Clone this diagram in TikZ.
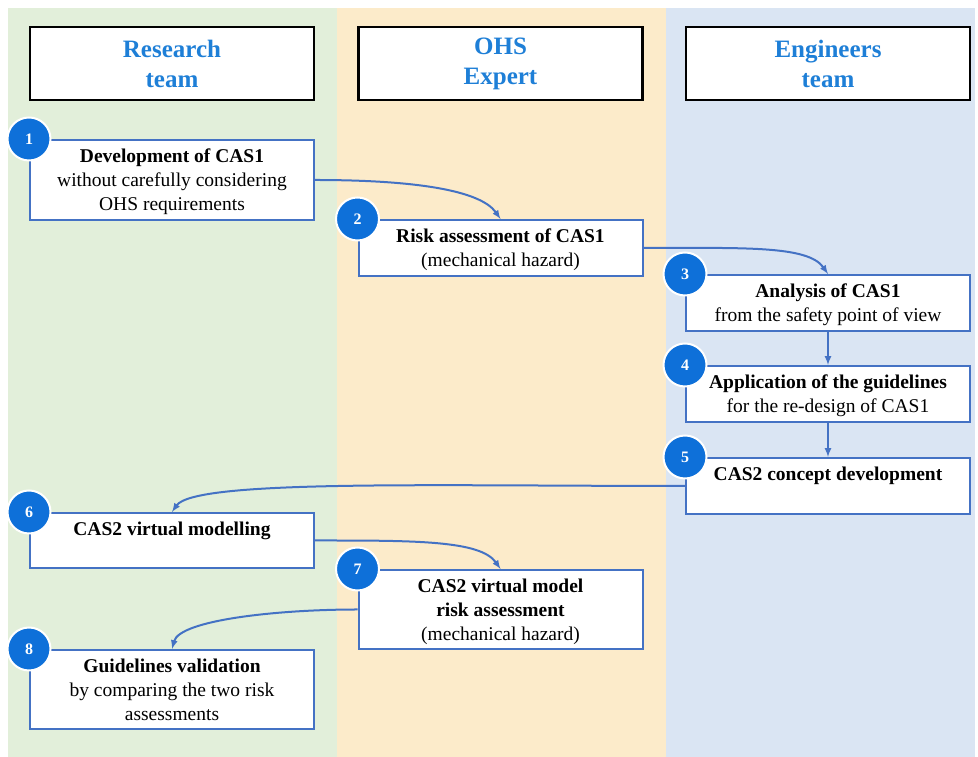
\documentclass[tikz,border=0pt]{standalone}
\usepackage{fontspec}
\setmainfont{Liberation Serif}
\usetikzlibrary{arrows}

\definecolor{greenbg}{RGB}{226,239,218}
\definecolor{orangebg}{RGB}{252,235,202}
\definecolor{bluebg}{RGB}{218,229,243}
\definecolor{linkblue}{RGB}{68,114,196}
\definecolor{dotblue}{RGB}{14,112,217}
\definecolor{headblue}{RGB}{30,127,215}

% text of a step, set from the top of its box
\newcommand{\boxtext}[2]{\parbox[c][#1][t]{284pt}{\centering\rule{0pt}{23pt}#2}}

\begin{document}
\begin{tikzpicture}[x=1pt,y=1pt,
    header/.style={draw=black, line width=2.5pt, fill=white, minimum width=284pt,
        minimum height=73pt, align=center, text=headblue,
        font=\fontsize{25}{30}\selectfont\bfseries},
    stepbox/.style={draw=linkblue, line width=2pt, fill=white, inner sep=0pt,
        font=\fontsize{19.5}{24}\selectfont},
    num/.style={circle, fill=dotblue, draw=white, line width=2pt, minimum size=43pt,
        inner sep=0pt, text=white, font=\fontsize{16}{16}\selectfont\bfseries},
    link/.style={draw=linkblue, line width=2pt, -latex}]
            \useasboundingbox (0,0) rectangle (978,757);
            \fill[greenbg] (8,0) rectangle (337,749);
            \fill[orangebg] (337,0) rectangle (666,749);
            \fill[bluebg] (666,0) rectangle (975,749);

            \node[header] (research) at (172,693.5) {Research\\team};
            \node[header] (ohs) at (500.5,693.5) {OHS\\Expert};
            \node[header] (engineers) at (828,693.5) {Engineers\\team};

            \node[stepbox] (1) at (172,577) {\boxtext{80pt}{\textbf{Development of CAS1}\\without carefully considering\\OHS requirements}};
            \node[stepbox] (2) at (500.5,509) {\boxtext{56pt}{\textbf{Risk assessment of CAS1}\\(mechanical hazard)}};
            \node[stepbox] (3) at (828,454) {\boxtext{56pt}{\textbf{Analysis of CAS1}\\from the safety point of view}};
            \node[stepbox] (4) at (828,363) {\boxtext{56pt}{\textbf{Application of the guidelines}\\for the re-design of CAS1}};
            \node[stepbox] (5) at (828,271) {\boxtext{56pt}{\textbf{CAS2 concept development}}};
            \node[stepbox] (6) at (172,216.5) {\boxtext{55pt}{\textbf{CAS2 virtual modelling}}};
            \node[stepbox] (7) at (500.5,147.5) {\boxtext{79pt}{\textbf{CAS2 virtual model}\\\textbf{risk assessment}\\(mechanical hazard)}};
            \node[stepbox] (8) at (172,67.5) {\boxtext{79pt}{\textbf{Guidelines validation}\\by comparing the two risk\\assessments}};

            \draw[link] (1.east) to[out=0,in=125,out distance=100pt,in distance=35pt] (2.north);
            \draw[link] (2.east) to[out=0,in=125,out distance=100pt,in distance=35pt] (3.north);
            \draw[link] (3) -- (4);
            \draw[link] (4) -- (5);
            \draw[link] (5.west) to[out=180,in=55,out distance=250pt,in distance=40pt] (6.north);
            \draw[link] (6.east) to[out=0,in=125,out distance=100pt,in distance=35pt] (7.north);
            \draw[link] (7.west) to[out=180,in=75,out distance=80pt,in distance=30pt] (8.north);

            \foreach \i in {1,...,8}
                \node[num] (n\i) at (\i.north west) {\i};
        \end{tikzpicture}
\end{document}
